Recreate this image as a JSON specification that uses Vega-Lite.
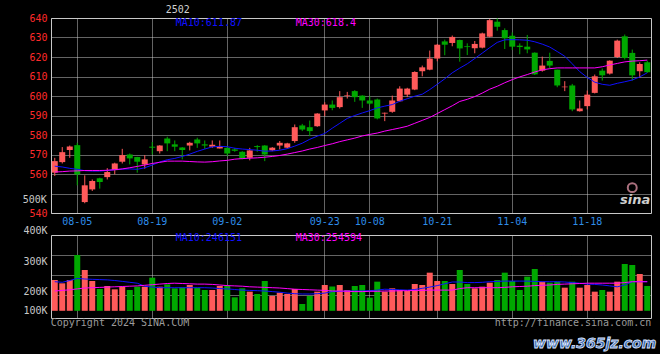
{
  "$schema": "https://vega.github.io/schema/vega-lite/v6.json",
  "background": "black",
  "padding": {"left": 22, "top": 4, "right": 5, "bottom": 2},
  "bounds": "flush",
  "spacing": 22,
  "config": {
    "view": {"stroke": "#c8c8c8", "strokeWidth": 1},
    "axis": {"labelFont": "DejaVu Sans Mono", "labelFontSize": 10, "ticks": false, "domain": false, "title": null, "gridDash": [1, 1], "gridColor": "#c8c8c8", "gridOpacity": 1, "labelOverlap": false},
    "text": {"font": "DejaVu Sans Mono", "fontSize": 10}
  },
  "datasets": {
    "k": [
      {"d":"07-31","o":560.7,"h":568.3,"l":559.0,"c":566.6,"v":236700,"m10":564.0,"m30":561.0,"vm10":231000,"vm30":200000},
      {"d":"08-01","o":566.1,"h":573.8,"l":565.4,"c":571.2,"v":225600,"m10":563.6,"m30":561.2,"vm10":229000,"vm30":202000},
      {"d":"08-02","o":572.3,"h":574.6,"l":568.3,"c":574.1,"v":236700,"m10":562.9,"m30":561.5,"vm10":235000,"vm30":204000},
      {"d":"08-05","o":574.8,"h":576.0,"l":554.2,"c":559.8,"v":320000,"m10":562.4,"m30":561.6,"vm10":242000,"vm30":207000},
      {"d":"08-06","o":545.6,"h":559.3,"l":545.0,"c":554.2,"v":270000,"m10":561.7,"m30":561.8,"vm10":240000,"vm30":210000},
      {"d":"08-07","o":552.1,"h":557.2,"l":551.3,"c":556.4,"v":233300,"m10":561.5,"m30":561.8,"vm10":239000,"vm30":211000},
      {"d":"08-08","o":557.8,"h":558.1,"l":552.5,"c":555.9,"v":206700,"m10":561.5,"m30":561.8,"vm10":238000,"vm30":212000},
      {"d":"08-09","o":558.4,"h":563.0,"l":557.2,"c":561.0,"v":216700,"m10":561.8,"m30":561.9,"vm10":237000,"vm30":213000},
      {"d":"08-12","o":562.0,"h":565.8,"l":559.8,"c":565.4,"v":205600,"m10":562.2,"m30":562.2,"vm10":235000,"vm30":214000},
      {"d":"08-13","o":566.3,"h":572.9,"l":565.4,"c":569.7,"v":214400,"m10":562.5,"m30":562.6,"vm10":232000,"vm30":215000},
      {"d":"08-14","o":570.0,"h":570.5,"l":564.9,"c":568.0,"v":203300,"m10":562.6,"m30":563.2,"vm10":229000,"vm30":216000},
      {"d":"08-15","o":568.7,"h":568.8,"l":560.7,"c":566.3,"v":214400,"m10":562.4,"m30":563.9,"vm10":226000,"vm30":217000},
      {"d":"08-16","o":564.9,"h":569.7,"l":562.7,"c":567.5,"v":214400,"m10":563.2,"m30":564.6,"vm10":216000,"vm30":219000},
      {"d":"08-19","o":574.0,"h":576.4,"l":570.0,"c":573.5,"v":244400,"m10":564.6,"m30":565.4,"vm10":213000,"vm30":221000},
      {"d":"08-20","o":571.7,"h":574.8,"l":570.5,"c":574.6,"v":214400,"m10":566.2,"m30":566.0,"vm10":211000,"vm30":223000},
      {"d":"08-21","o":578.2,"h":579.1,"l":571.7,"c":575.7,"v":222200,"m10":567.3,"m30":566.6,"vm10":211000,"vm30":225000},
      {"d":"08-22","o":575.2,"h":577.2,"l":571.7,"c":574.0,"v":208900,"m10":568.0,"m30":566.6,"vm10":211000,"vm30":226000},
      {"d":"08-23","o":573.6,"h":573.8,"l":567.5,"c":572.3,"v":212200,"m10":569.0,"m30":566.6,"vm10":211000,"vm30":225000},
      {"d":"08-26","o":574.6,"h":576.5,"l":572.1,"c":576.0,"v":220000,"m10":570.2,"m30":566.4,"vm10":211000,"vm30":224000},
      {"d":"08-27","o":577.7,"h":578.6,"l":573.4,"c":575.7,"v":211100,"m10":571.6,"m30":566.2,"vm10":211000,"vm30":223000},
      {"d":"08-28","o":575.2,"h":577.2,"l":572.9,"c":574.6,"v":203300,"m10":572.8,"m30":566.1,"vm10":211000,"vm30":223000},
      {"d":"08-29","o":574.0,"h":577.2,"l":573.4,"c":575.0,"v":203300,"m10":573.9,"m30":566.3,"vm10":210000,"vm30":222000},
      {"d":"08-30","o":573.1,"h":577.2,"l":573.1,"c":574.3,"v":216700,"m10":574.2,"m30":566.7,"vm10":208000,"vm30":220000},
      {"d":"09-02","o":573.4,"h":574.3,"l":569.2,"c":570.5,"v":217800,"m10":574.0,"m30":567.0,"vm10":207000,"vm30":218000},
      {"d":"09-03","o":572.6,"h":573.4,"l":571.4,"c":571.9,"v":178900,"m10":573.2,"m30":567.6,"vm10":205000,"vm30":217000},
      {"d":"09-04","o":571.4,"h":571.7,"l":567.5,"c":567.8,"v":208900,"m10":572.8,"m30":567.9,"vm10":203000,"vm30":216000},
      {"d":"09-05","o":568.3,"h":573.4,"l":567.0,"c":572.1,"v":197800,"m10":572.5,"m30":568.1,"vm10":202000,"vm30":214000},
      {"d":"09-06","o":574.3,"h":574.8,"l":571.4,"c":573.8,"v":190000,"m10":572.2,"m30":568.3,"vm10":201000,"vm30":213000},
      {"d":"09-09","o":574.6,"h":574.8,"l":566.6,"c":570.0,"v":233300,"m10":571.7,"m30":568.6,"vm10":200000,"vm30":212000},
      {"d":"09-10","o":572.1,"h":573.8,"l":571.7,"c":573.5,"v":183300,"m10":571.8,"m30":569.0,"vm10":198000,"vm30":211000},
      {"d":"09-11","o":574.6,"h":576.9,"l":572.6,"c":576.0,"v":194400,"m10":572.2,"m30":569.5,"vm10":196000,"vm30":210000},
      {"d":"09-12","o":573.5,"h":576.0,"l":573.1,"c":575.7,"v":190000,"m10":573.0,"m30":570.2,"vm10":193000,"vm30":208000},
      {"d":"09-13","o":576.9,"h":585.4,"l":576.0,"c":584.0,"v":206700,"m10":574.3,"m30":571.0,"vm10":191000,"vm30":206000},
      {"d":"09-18","o":584.9,"h":585.7,"l":582.0,"c":582.8,"v":156700,"m10":575.8,"m30":571.8,"vm10":190000,"vm30":205000},
      {"d":"09-19","o":584.0,"h":587.4,"l":579.4,"c":582.0,"v":183300,"m10":577.8,"m30":572.8,"vm10":190000,"vm30":204000},
      {"d":"09-20","o":584.5,"h":591.2,"l":584.2,"c":591.0,"v":197800,"m10":579.4,"m30":573.6,"vm10":191000,"vm30":203000},
      {"d":"09-23","o":592.6,"h":596.8,"l":589.7,"c":595.6,"v":220000,"m10":580.8,"m30":574.6,"vm10":193000,"vm30":202000},
      {"d":"09-24","o":595.6,"h":597.7,"l":592.7,"c":593.9,"v":215000,"m10":583.5,"m30":575.5,"vm10":198000,"vm30":200000},
      {"d":"09-25","o":594.3,"h":602.5,"l":593.6,"c":599.4,"v":220000,"m10":586.0,"m30":576.6,"vm10":199000,"vm30":200000},
      {"d":"09-26","o":600.1,"h":602.1,"l":598.7,"c":600.4,"v":203300,"m10":588.5,"m30":577.5,"vm10":200000,"vm30":199000},
      {"d":"09-27","o":602.5,"h":603.0,"l":597.0,"c":599.4,"v":216700,"m10":590.0,"m30":578.4,"vm10":200000,"vm30":198000},
      {"d":"09-30","o":600.2,"h":600.4,"l":593.9,"c":597.7,"v":220000,"m10":591.3,"m30":579.5,"vm10":200000,"vm30":198000},
      {"d":"10-08","o":597.7,"h":599.9,"l":595.6,"c":596.1,"v":177800,"m10":592.5,"m30":580.3,"vm10":201000,"vm30":199000},
      {"d":"10-09","o":598.2,"h":598.7,"l":588.0,"c":588.5,"v":231100,"m10":593.9,"m30":581.0,"vm10":203000,"vm30":199000},
      {"d":"10-10","o":591.0,"h":591.5,"l":587.1,"c":591.4,"v":197800,"m10":594.8,"m30":582.0,"vm10":206000,"vm30":200000},
      {"d":"10-11","o":591.9,"h":600.2,"l":591.4,"c":597.7,"v":208900,"m10":595.6,"m30":582.8,"vm10":205000,"vm30":200000},
      {"d":"10-14","o":597.3,"h":605.0,"l":597.0,"c":603.8,"v":203300,"m10":597.3,"m30":583.6,"vm10":204000,"vm30":201000},
      {"d":"10-15","o":600.7,"h":604.2,"l":599.4,"c":603.8,"v":200000,"m10":598.6,"m30":584.5,"vm10":203000,"vm30":201000},
      {"d":"10-16","o":603.3,"h":612.7,"l":603.0,"c":612.3,"v":223300,"m10":599.9,"m30":586.0,"vm10":205000,"vm30":202000},
      {"d":"10-17","o":612.7,"h":615.6,"l":610.1,"c":614.7,"v":220000,"m10":600.9,"m30":587.5,"vm10":209000,"vm30":202000},
      {"d":"10-18","o":613.5,"h":623.3,"l":613.2,"c":619.2,"v":261100,"m10":603.3,"m30":589.0,"vm10":213000,"vm30":203000},
      {"d":"10-21","o":619.2,"h":626.7,"l":617.8,"c":626.3,"v":233300,"m10":606.0,"m30":591.0,"vm10":218000,"vm30":203000},
      {"d":"10-22","o":628.0,"h":628.9,"l":620.9,"c":626.3,"v":233300,"m10":608.8,"m30":593.0,"vm10":224000,"vm30":203000},
      {"d":"10-23","o":627.2,"h":631.0,"l":625.5,"c":630.3,"v":223300,"m10":611.9,"m30":595.0,"vm10":230000,"vm30":203000},
      {"d":"10-24","o":628.7,"h":628.9,"l":617.6,"c":624.4,"v":270000,"m10":614.3,"m30":597.2,"vm10":230000,"vm30":208000},
      {"d":"10-25","o":625.5,"h":627.0,"l":621.0,"c":625.1,"v":223300,"m10":616.5,"m30":598.3,"vm10":228000,"vm30":211000},
      {"d":"10-28","o":624.5,"h":628.2,"l":621.9,"c":626.7,"v":208900,"m10":619.2,"m30":599.7,"vm10":228000,"vm30":211000},
      {"d":"10-29","o":624.8,"h":632.5,"l":624.4,"c":632.1,"v":214400,"m10":622.0,"m30":601.5,"vm10":229000,"vm30":211000},
      {"d":"10-30","o":630.4,"h":639.5,"l":630.1,"c":638.9,"v":227800,"m10":624.8,"m30":603.5,"vm10":231000,"vm30":211000},
      {"d":"10-31","o":638.1,"h":639.8,"l":633.5,"c":635.5,"v":236700,"m10":627.5,"m30":605.0,"vm10":232000,"vm30":211000},
      {"d":"11-01","o":633.8,"h":634.7,"l":624.1,"c":629.6,"v":261100,"m10":628.8,"m30":606.8,"vm10":233000,"vm30":212000},
      {"d":"11-04","o":630.9,"h":632.6,"l":623.6,"c":625.3,"v":233300,"m10":628.9,"m30":608.4,"vm10":233000,"vm30":214000},
      {"d":"11-05","o":625.8,"h":627.0,"l":621.4,"c":625.1,"v":203300,"m10":628.8,"m30":609.8,"vm10":233000,"vm30":215000},
      {"d":"11-06","o":625.3,"h":631.3,"l":621.9,"c":623.9,"v":247800,"m10":628.6,"m30":611.0,"vm10":233000,"vm30":216000},
      {"d":"11-07","o":622.2,"h":622.4,"l":610.8,"c":611.1,"v":273300,"m10":627.8,"m30":612.3,"vm10":232000,"vm30":218000},
      {"d":"11-08","o":613.0,"h":620.2,"l":612.5,"c":615.6,"v":231100,"m10":626.6,"m30":613.4,"vm10":231000,"vm30":219000},
      {"d":"11-11","o":618.0,"h":622.2,"l":614.2,"c":615.6,"v":227800,"m10":625.1,"m30":614.0,"vm10":231000,"vm30":220000},
      {"d":"11-12","o":613.5,"h":613.5,"l":604.5,"c":605.4,"v":231100,"m10":622.8,"m30":614.4,"vm10":231000,"vm30":222000},
      {"d":"11-13","o":604.5,"h":607.6,"l":602.5,"c":604.8,"v":211100,"m10":620.4,"m30":614.4,"vm10":230000,"vm30":223000},
      {"d":"11-14","o":605.4,"h":606.2,"l":592.2,"c":593.1,"v":231100,"m10":616.5,"m30":614.4,"vm10":228000,"vm30":224000},
      {"d":"11-15","o":592.2,"h":597.7,"l":592.0,"c":593.6,"v":211100,"m10":612.5,"m30":614.4,"vm10":226000,"vm30":225000},
      {"d":"11-18","o":594.8,"h":602.8,"l":593.1,"c":600.7,"v":220000,"m10":609.5,"m30":614.4,"vm10":223000,"vm30":226000},
      {"d":"11-19","o":601.6,"h":611.0,"l":601.3,"c":610.1,"v":197800,"m10":607.1,"m30":614.4,"vm10":222000,"vm30":226000},
      {"d":"11-20","o":613.0,"h":614.1,"l":607.9,"c":610.6,"v":203300,"m10":606.0,"m30":615.0,"vm10":220000,"vm30":226000},
      {"d":"11-21","o":611.5,"h":618.3,"l":611.0,"c":618.1,"v":197800,"m10":605.5,"m30":615.9,"vm10":217000,"vm30":226000},
      {"d":"11-22","o":620.0,"h":628.9,"l":619.5,"c":628.4,"v":231100,"m10":606.5,"m30":616.7,"vm10":214000,"vm30":226000},
      {"d":"11-25","o":630.6,"h":631.5,"l":618.7,"c":619.5,"v":290000,"m10":607.3,"m30":617.5,"vm10":220000,"vm30":228000},
      {"d":"11-26","o":622.1,"h":623.8,"l":607.9,"c":610.6,"v":286700,"m10":608.2,"m30":617.9,"vm10":231000,"vm30":231000},
      {"d":"11-27","o":612.7,"h":617.3,"l":609.3,"c":616.4,"v":256700,"m10":609.8,"m30":618.1,"vm10":231000,"vm30":231000},
      {"d":"11-28","o":617.3,"h":618.1,"l":611.8,"c":612.2,"v":216700,"m10":611.9,"m30":618.4,"vm10":231000,"vm30":231000}
    ]
  },
  "vconcat": [
    {
      "width": 600,
      "height": 195,
      "data": {"name": "k"},
      "resolve": {"axis": {"x": "independent", "y": "independent"}},
      "layer": [
        {
          "mark": {"type": "rule", "strokeWidth": 1},
          "encoding": {
            "x": {"field": "d", "type": "ordinal",
              "scale": {"type": "band", "paddingInner": 0.2, "paddingOuter": 0.1},
              "axis": {"values": ["08-05","08-19","09-02","09-23","10-08","10-21","11-04","11-18"], "labelAngle": 0, "labelColor": "#2e8ce8", "grid": true, "labelPadding": 3}},
            "y": {"field": "l", "type": "quantitative", "scale": {"domain": [540, 640], "zero": false, "nice": false},
              "axis": {"values": [540,550,560,570,580,590,600,610,620,630,640], "labelColor": "#ff2a2a", "grid": true, "labelPadding": 4,
                "labelExpr": "datum.value == 550 ? '' : datum.label"}},
            "y2": {"field": "h"},
            "color": {"condition": {"test": "datum.c >= datum.o", "value": "#ff5a5a"}, "value": "#00a800"}
          }
        },
        {
          "mark": {"type": "bar"},
          "encoding": {
            "x": {"field": "d", "type": "ordinal", "scale": {"type": "band", "paddingInner": 0.2, "paddingOuter": 0.1}, "axis": null},
            "y": {"field": "o", "type": "quantitative", "axis": null},
            "y2": {"field": "c"},
            "color": {"condition": {"test": "datum.c >= datum.o", "value": "#ff5a5a"}, "value": "#00a800"}
          }
        },
        {
          "mark": {"type": "line", "color": "#1010ff", "strokeWidth": 1},
          "encoding": {"x": {"field": "d", "type": "ordinal", "axis": null}, "y": {"field": "m10", "type": "quantitative", "axis": null}}
        },
        {
          "mark": {"type": "line", "color": "#ff00ff", "strokeWidth": 1},
          "encoding": {"x": {"field": "d", "type": "ordinal", "axis": null}, "y": {"field": "m30", "type": "quantitative", "axis": null}}
        },
        {
          "data": {"values": [{}]},
          "mark": {"type": "text", "align": "center", "baseline": "middle", "dx": 3, "color": "#d0d0d0"},
          "encoding": {"x": {"datum": "08-22", "axis": null}, "y": {"datum": 644.2, "axis": null}, "text": {"value": "2502"}}
        },
        {
          "data": {"values": [{}]},
          "mark": {"type": "text", "align": "left", "baseline": "middle", "dx": 1, "color": "#1010ff"},
          "encoding": {"x": {"datum": "08-22", "axis": null}, "y": {"datum": 637.4, "axis": null}, "text": {"value": "MA10:611.87"}}
        },
        {
          "data": {"values": [{}]},
          "mark": {"type": "text", "align": "left", "baseline": "middle", "dx": 1, "color": "#ff00ff"},
          "encoding": {"x": {"datum": "09-13", "axis": null}, "y": {"datum": 637.4, "axis": null}, "text": {"value": "MA30:618.4"}}
        },
        {
          "data": {"values": [{}]},
          "mark": {"type": "text", "align": "right", "baseline": "middle", "dx": -8, "color": "#c8c8c8"},
          "encoding": {"x": {"datum": "07-31", "axis": null}, "y": {"datum": 546.5, "axis": null}, "text": {"value": "500K"}}
        },
        {
          "data": {"values": [{}]},
          "mark": {"type": "point", "shape": "circle", "filled": false, "stroke": "#f3a0b4", "strokeWidth": 2, "size": 80},
          "encoding": {"x": {"datum": "11-26", "axis": null}, "y": {"datum": 553, "axis": null}}
        },
        {
          "data": {"values": [{}]},
          "mark": {"type": "text", "align": "right", "baseline": "middle", "dx": 3, "font": "DejaVu Sans", "fontSize": 13, "fontStyle": "italic", "fontWeight": "bold", "color": "#cfcfcf"},
          "encoding": {"x": {"datum": "11-28", "axis": null}, "y": {"datum": 546.5, "axis": null}, "text": {"value": "sina"}}
        }
      ]
    },
    {
      "width": 600,
      "height": 83,
      "data": {"name": "k"},
      "resolve": {"axis": {"y": "independent"}},
      "encoding": {
        "x": {"field": "d", "type": "ordinal",
          "scale": {"type": "band", "paddingInner": 0.2, "paddingOuter": 0.1},
          "axis": {"values": ["08-05","08-19","09-02","09-23","10-08","10-21","11-04","11-18"], "labels": false, "grid": true}}
      },
      "layer": [
        {
          "mark": {"type": "bar"},
          "encoding": {
            "y": {"field": "v", "type": "quantitative", "scale": {"domain": [110000, 386667], "zero": false, "nice": false},
              "axis": {"values": [134000, 200000, 300000, 386000], "grid": false, "labelColor": "#c8c8c8", "labelPadding": 4,
                "labelExpr": "datum.value > 380000 ? '400K' : datum.value < 150000 ? '100K' : format(datum.value / 1000, 'd') + 'K'",
                "labelBaseline": {"condition": {"test": "datum.value > 380000", "value": "bottom"}, "value": "middle"}}},
            "y2": {"datum": 134000},
            "color": {"condition": {"test": "datum.c >= datum.o", "value": "#ff5a5a"}, "value": "#00a800"}
          }
        },
        {
          "mark": {"type": "line", "color": "#1010ff", "strokeWidth": 1},
          "encoding": {"y": {"field": "vm10", "type": "quantitative", "scale": {"domain": [110000, 386667], "zero": false, "nice": false},
            "axis": {"orient": "right", "values": [186667, 253333, 320000], "labels": false, "grid": true}}}
        },
        {
          "mark": {"type": "line", "color": "#ff00ff", "strokeWidth": 1},
          "encoding": {"y": {"field": "vm30", "type": "quantitative", "axis": null}}
        },
        {
          "data": {"values": [{}]},
          "mark": {"type": "text", "align": "left", "baseline": "middle", "dx": 1, "color": "#1010ff"},
          "encoding": {"x": {"datum": "08-22"}, "y": {"datum": 375700, "axis": null}, "text": {"value": "MA10:246151"}}
        },
        {
          "data": {"values": [{}]},
          "mark": {"type": "text", "align": "left", "baseline": "middle", "dx": 1, "color": "#ff00ff"},
          "encoding": {"x": {"datum": "09-13"}, "y": {"datum": 375700, "axis": null}, "text": {"value": "MA30:254594"}}
        },
        {
          "data": {"values": [{}]},
          "mark": {"type": "text", "align": "left", "baseline": "middle", "dx": -4, "color": "#9a9a9a"},
          "encoding": {"x": {"datum": "07-31"}, "y": {"datum": 92300, "axis": null}, "text": {"value": "Copyright 2024 SINA.COM"}}
        },
        {
          "data": {"values": [{}]},
          "mark": {"type": "text", "align": "right", "baseline": "middle", "dx": 4, "color": "#9a9a9a"},
          "encoding": {"x": {"datum": "11-28"}, "y": {"datum": 92300, "axis": null}, "text": {"value": "http://finance.sina.com.cn"}}
        },
        {
          "data": {"values": [{}]},
          "mark": {"type": "text", "align": "right", "baseline": "middle", "dx": 9, "font": "DejaVu Sans", "fontSize": 14, "fontStyle": "italic", "fontWeight": "bold", "color": "#3a68b0", "stroke": "#dde6ff", "strokeWidth": 0.8},
          "encoding": {"x": {"datum": "11-28"}, "y": {"datum": 23300, "axis": null}, "text": {"value": "www.365jz.com"}}
        }
      ]
    }
  ]
}
